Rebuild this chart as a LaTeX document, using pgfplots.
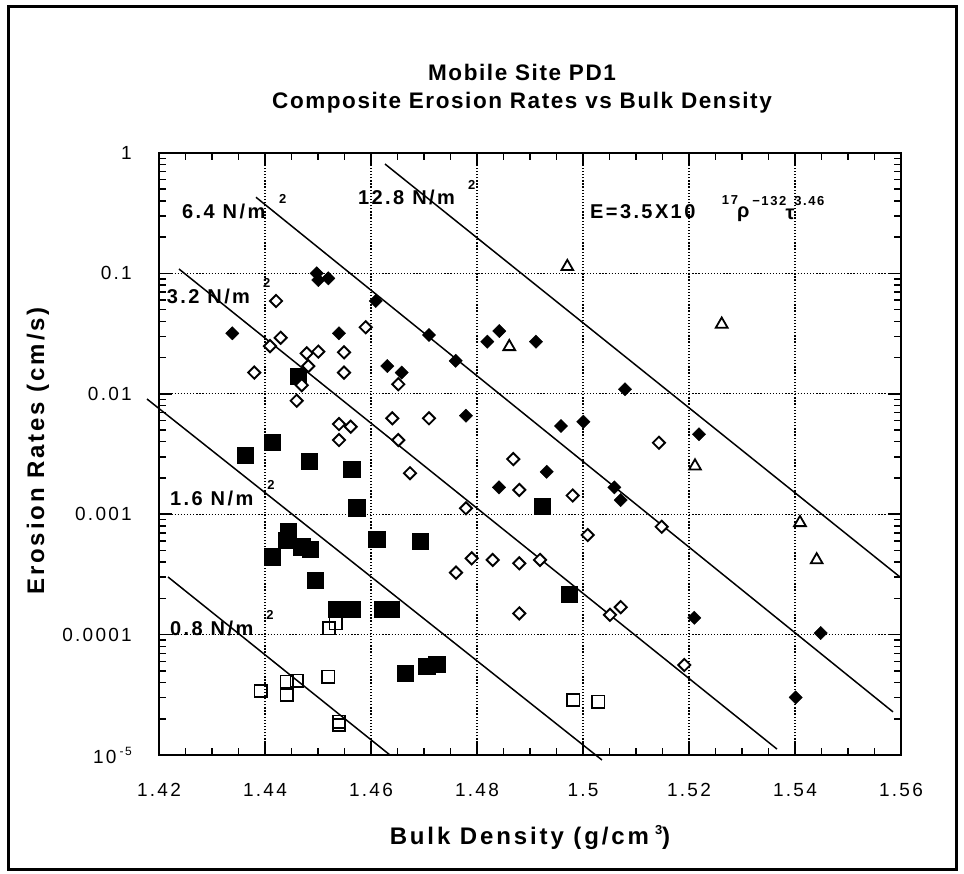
\documentclass[border=0pt]{standalone}
\usepackage{fontspec}
\setmainfont{Liberation Sans}
\newfontfamily\lsf[LetterSpace=12]{Liberation Sans}
\newfontfamily\lsg[LetterSpace=7]{Liberation Sans}
\usepackage{pgfplots}
\pgfplotsset{compat=1.18}
\newcommand{\tickf}{\lsf\fontsize{19}{22}\selectfont}
\newcommand{\labf}{\lsf\bfseries\fontsize{24}{28}\selectfont}
\newcommand{\titf}{\lsg\bfseries\fontsize{22.5}{26}\selectfont}
\newcommand{\annf}{\lsf\bfseries\fontsize{20}{24}\selectfont}
\newcommand{\supf}{\lsf\bfseries\fontsize{13}{15}\selectfont}
\begin{document}
\begin{tikzpicture}[x=1pt,y=1pt]
\useasboundingbox (0,0) rectangle (964,873);
\draw[line width=3pt] (8,4) rectangle (956,866);
\begin{axis}[at={(159pt,118pt)}, anchor=south west, scale only axis,
  width=742pt, height=602pt,
  xmin=1.42, xmax=1.56, ymin=1e-5, ymax=1, ymode=log, clip=false,
  xtick={1.42,1.44,1.46,1.48,1.5,1.52,1.54,1.56},
  xticklabels={1.42,1.44,1.46,1.48,1.5,1.52,1.54,1.56},
  minor x tick num=3,
  ytick={1e-5,1e-4,1e-3,1e-2,1e-1,1},
  yticklabels={10\,\raisebox{8pt}{\fontsize{12}{12}\selectfont -5},0.0001,0.001,0.01,0.1,1},
  minor ytick={2e-5,3e-5,4e-5,5e-5,6e-5,7e-5,8e-5,9e-5,2e-4,3e-4,4e-4,5e-4,6e-4,7e-4,8e-4,9e-4,2e-3,3e-3,4e-3,5e-3,6e-3,7e-3,8e-3,9e-3,2e-2,3e-2,4e-2,5e-2,6e-2,7e-2,8e-2,9e-2,0.2,0.3,0.4,0.5,0.6,0.7,0.8,0.9},
  tick align=inside, tick pos=both,
  major tick length=13pt, minor tick length=7pt,
  xmajorgrids, ymajorgrids,
  major grid style={black, line width=1.3pt, dash pattern=on 1.3pt off 1.8pt},
  axis line style={black, line width=2.2pt},
  every tick/.style={black, line width=1.5pt},
  xticklabel style={anchor=center, yshift=-35pt, inner sep=0pt, font=\tickf},
  yticklabel style={anchor=east, xshift=-27pt, inner sep=0pt, font=\tickf},
]
% regression lines
\addplot[black, line width=1.5pt] coordinates {(1.46264,0.810) (1.55981,3.01e-4)};
\addplot[black, line width=1.5pt] coordinates {(1.43830,0.429) (1.55849,2.28e-5)};
\addplot[black, line width=1.5pt] coordinates {(1.42377,0.1088) (1.53660,1.12e-5)};
\addplot[black, line width=1.5pt] coordinates {(1.41774,0.00905) (1.50358,9.09e-6)};
\addplot[black, line width=1.5pt] coordinates {(1.42170,3.01e-4) (1.46358,1e-5)};
% filled squares
\addplot[only marks, mark=square*, mark size=8.2pt, black] coordinates {
(1.43623,0.0031) (1.44138,0.00395) (1.44628,0.01406) (1.44830,0.00277)
(1.45636,0.00237) (1.45730,0.00113) (1.46108,0.000619) (1.44440,0.000716)
(1.44409,0.000610) (1.44692,0.000537) (1.44849,0.000514) (1.44138,0.000443)
(1.44943,0.000284) (1.45353,0.000162) (1.45647,0.000162) (1.46221,0.000162)
(1.46372,0.000162) (1.46642,4.77e-5) (1.47051,5.48e-5) (1.47240,5.70e-5)
(1.49736,2.16e-4) (1.46925,0.000599) (1.49232,0.00117)};
% open squares
\addplot[only marks, mark=square, mark size=6.2pt, black, mark options={line width=1.8pt}] coordinates {
(1.43919,3.40e-5) (1.44409,4.06e-5) (1.44598,4.14e-5) (1.44409,3.15e-5)
(1.45194,4.47e-5) (1.45208,1.13e-4) (1.45334,1.24e-4) (1.45396,1.89e-5)
(1.45396,1.77e-5) (1.49818,2.86e-5) (1.50289,2.77e-5)};
% filled diamonds
\addplot[only marks, mark=square*, mark size=4.7pt, black, mark options={rotate=45}] coordinates {
(1.43383,0.0318) (1.44975,0.1002) (1.45006,0.0881) (1.45194,0.0910)
(1.45396,0.0318) (1.46089,0.0590) (1.46308,0.0170) (1.46579,0.0150)
(1.47094,0.0308) (1.47598,0.0188) (1.47792,0.00658) (1.48194,0.0271)
(1.48421,0.0332) (1.48415,0.00167) (1.49113,0.0271) (1.49315,0.00225)
(1.49585,0.00540) (1.50006,0.00586) (1.50591,0.00167) (1.50711,0.00131)
(1.50792,0.0109) (1.52100,0.000138) (1.52189,0.00461) (1.54013,3.01e-5)
(1.54485,0.000103)};
% open diamonds
\addplot[only marks, mark=square*, mark size=4.3pt, black, mark options={rotate=45, fill=white, line width=1.9pt}] coordinates {
(1.44208,0.059) (1.44296,0.0292) (1.44094,0.0249) (1.44787,0.0217)
(1.45006,0.0224) (1.45491,0.0221) (1.45900,0.0357) (1.43798,0.0150)
(1.44817,0.0170) (1.44692,0.0118) (1.45491,0.0150) (1.46515,0.0120)
(1.44598,0.00876) (1.46402,0.00626) (1.45396,0.00561) (1.45617,0.00533)
(1.45396,0.00413) (1.46515,0.00413) (1.46736,0.00219) (1.47094,0.00626)
(1.48685,0.00287) (1.48798,0.00159) (1.47792,0.00112) (1.49806,0.00143)
(1.51433,0.00392) (1.50089,0.000672) (1.51485,0.000787) (1.47900,0.000430)
(1.48296,0.000417) (1.48798,0.000391) (1.49189,0.000417) (1.47604,0.000327)
(1.48798,0.000150) (1.50509,0.000146) (1.50711,0.000169) (1.51911,5.59e-5)};
% open triangles
\addplot[only marks, mark=triangle*, mark size=6.8pt, black, mark options={fill=white, line width=1.8pt}] coordinates {
(1.49704,0.1137) (1.48609,0.0246) (1.52617,0.0378) (1.52113,0.00251)
(1.54094,0.000850) (1.54409,0.000417)};
\end{axis}
% titles and labels
\node[font=\titf] at (522,801) {Mobile Site PD1};
\node[font=\titf] at (522,770) {Composite Erosion Rates vs Bulk Density};
\node[font=\labf, rotate=90] at (38,422) {Erosion Rates (cm/s)};
\node[font=\labf] at (530,35) {Bulk Density (g/cm\hspace{6pt}\raisebox{10pt}{\fontsize{13}{13}\selectfont 3})};
% annotations
\node[font=\annf, anchor=west, inner sep=0pt] at (358,676) {12.8 N/m};
\node[font=\supf, inner sep=0pt] at (471.7,688) {2};
\node[font=\annf, anchor=west, inner sep=0pt] at (182,661.3) {6.4 N/m};
\node[font=\supf, inner sep=0pt] at (282.7,673.7) {2};
\node[font=\annf, anchor=west, inner sep=0pt] at (166.7,576.3) {3.2 N/m};
\node[font=\supf, inner sep=0pt] at (266.7,589.7) {2};
\node[font=\annf, anchor=west, inner sep=0pt] at (170,374.7) {1.6 N/m};
\node[font=\supf, inner sep=0pt] at (271,388) {2};
\node[font=\annf, anchor=west, inner sep=0pt] at (170,244.7) {0.8 N/m};
\node[font=\supf, inner sep=0pt] at (270,258) {2};
\node[font=\annf, anchor=west, inner sep=0pt] at (590,661.3) {E=3.5X10};
\node[font=\supf, inner sep=0pt] at (730,673) {17};
\node[font=\annf, inner sep=0pt] at (743.3,659) {ρ};
\node[font=\supf, inner sep=0pt] at (769.3,672) {−132};
\node[font=\annf, inner sep=0pt] at (790,659) {τ};
\node[font=\supf, inner sep=0pt] at (809.3,672) {3.46};
\end{tikzpicture}
\end{document}
